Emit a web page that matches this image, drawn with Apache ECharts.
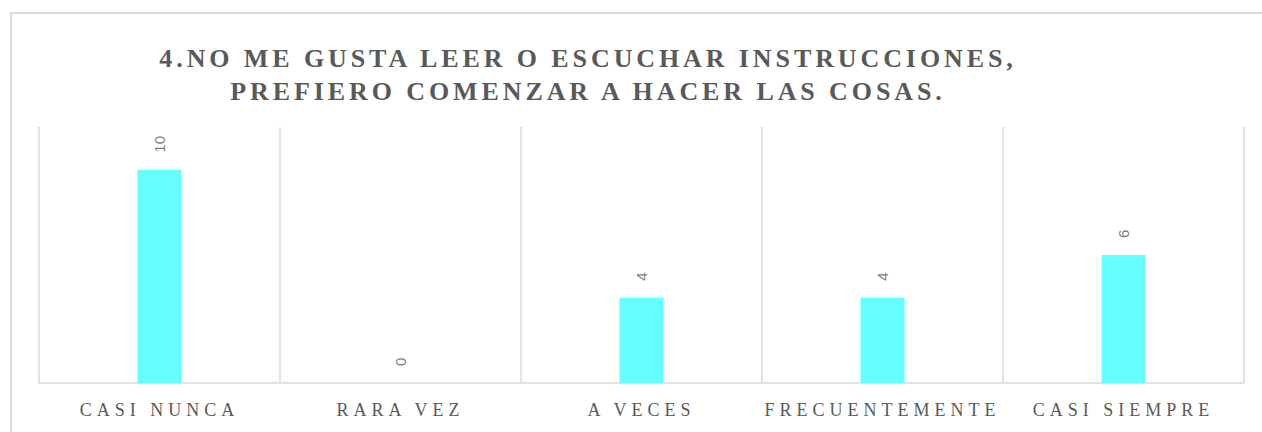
<!DOCTYPE html>
<html>
<head>
<meta charset="utf-8">
<script src="https://cdn.jsdelivr.net/npm/echarts@6/dist/echarts.min.js"></script>
<style>
    html, body { margin: 0; padding: 0; background: #fff; }
    #grafico { width: 1262px; height: 432px; }
    #grafico text[style*="Serif"], #grafico text[font-family*="Serif"] { letter-spacing: 5px; }
    #grafico text[style*="bold"], #grafico text[font-weight="bold"] { letter-spacing: 3.9px; }
</style>
</head>
<body>
<div id="grafico"></div>
<script>
const titulo = '4.NO ME GUSTA LEER O ESCUCHAR INSTRUCCIONES,\nPREFIERO COMENZAR A HACER LAS COSAS.'
const categorias = ['CASI NUNCA', 'RARA VEZ', 'A VECES', 'FRECUENTEMENTE', 'CASI SIEMPRE']
const valores = [10, 0, 4, 4, 6]
const fonteSerif = '"Liberation Serif", "Times New Roman"'

const dom = document.getElementById('grafico')
const myChart = echarts.init(dom, null, { renderer: 'svg' })

const option = {
    animation: false,
    backgroundColor: '#fff',
    title: {
        text: titulo,
        left: 583,
        top: 37,
        textAlign: 'center',
        textStyle: {
            fontFamily: fonteSerif,
            fontWeight: 'bold',
            fontSize: 26,
            color: '#595959',
            lineHeight: 33
        }
    },
    graphic: [{
        type: 'rect',
        silent: true,
        shape: { x: 11, y: 13, width: 1300, height: 500 },
        style: { fill: 'none', stroke: '#d9d9d9', lineWidth: 2 }
    }],
    grid: { left: 39, right: 18, top: 127, bottom: 49 },
    xAxis: {
        type: 'category',
        data: categorias,
        axisLine: { lineStyle: { color: '#d9d9d9', width: 1.5 } },
        axisTick: { show: false },
        splitLine: { show: true, lineStyle: { color: '#d9d9d9', width: 1.5 } },
        axisLabel: {
            margin: 18,
            fontFamily: fonteSerif,
            fontSize: 18,
            color: '#595959'
        }
    },
    yAxis: {
        type: 'value',
        min: 0,
        max: 12,
        show: false
    },
    series: [{
        type: 'bar',
        data: valores,
        barWidth: 44,
        itemStyle: { color: '#66ffff' },
        label: {
            show: true,
            position: 'top',
            distance: 17,
            rotate: 90,
            align: 'left',
            verticalAlign: 'middle',
            fontFamily: 'Arial, sans-serif',
            fontSize: 15,
            color: '#7f7f7f'
        }
    }]
}

myChart.setOption(option)
</script>
</body>
</html>
